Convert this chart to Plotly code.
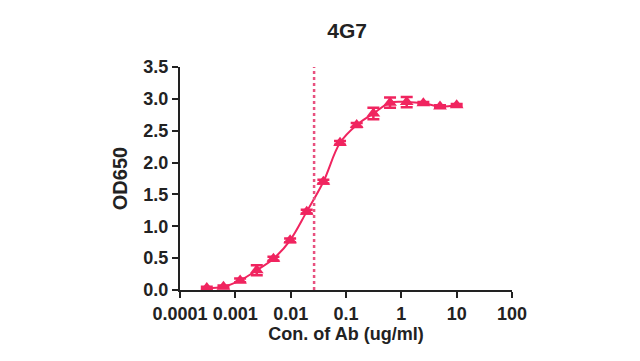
import plotly.graph_objects as go

conc = [0.000305, 0.00061, 0.00122, 0.00244, 0.00488, 0.00977, 0.0195, 0.039,
        0.078, 0.156, 0.3125, 0.625, 1.25, 2.5, 5, 10]
od = [0.03, 0.05, 0.15, 0.31, 0.49, 0.78, 1.23, 1.70,
      2.31, 2.59, 2.77, 2.94, 2.95, 2.93, 2.88, 2.90]
err = [0.02, 0.02, 0.03, 0.08, 0.03, 0.03, 0.03, 0.03,
       0.03, 0.03, 0.09, 0.08, 0.08, 0.02, 0.02, 0.02]
ec50 = 0.0265
x_ticks = [0.0001, 0.001, 0.01, 0.1, 1, 10, 100]
x_tick_labels = ["0.0001", "0.001", "0.01", "0.1", "1", "10", "100"]
y_ticks = [0.0, 0.5, 1.0, 1.5, 2.0, 2.5, 3.0, 3.5]

red = "#F0245F"
font = "Liberation Sans"

fig = go.Figure()
fig.add_trace(go.Scatter(
    x=conc, y=od, mode="lines",
    line=dict(color=red, width=2, shape="spline", smoothing=1.0),
    hoverinfo="skip", showlegend=False, cliponaxis=False))
fig.add_trace(go.Scatter(
    x=conc, y=od, mode="markers",
    marker=dict(symbol="triangle-up", size=12, color=red),
    error_y=dict(type="data", array=err, color=red, thickness=2.5, width=6),
    showlegend=False, cliponaxis=False))
fig.add_trace(go.Scatter(
    x=[ec50, ec50], y=[0, 3.5], mode="lines",
    line=dict(color="#E8507F", width=2.5, dash="dot"),
    showlegend=False, hoverinfo="skip"))

fig.update_layout(
    width=640, height=361,
    paper_bgcolor="white", plot_bgcolor="white",
    margin=dict(l=172, r=136, t=59, b=79),
    font=dict(family=font, color="#222222", size=18),
    title=dict(text="<b>4G7</b>", x=0.53, xanchor="center", y=0.936, yanchor="middle",
               font=dict(size=21, family=font, color="#222222")),
    xaxis=dict(type="log", range=[-4, 2], tickvals=x_ticks, ticktext=[f"<b>{t}</b>" for t in x_tick_labels],
               showgrid=False, zeroline=False, showline=True, linecolor="#222222", linewidth=2,
               ticks="outside", ticklen=6, tickwidth=2, tickcolor="#222222",
               tickfont=dict(size=18), automargin=False,
               title=dict(text="<b>Con. of Ab (ug/ml)</b>", font=dict(size=18), standoff=2)),
    yaxis=dict(range=[0, 3.5], tickvals=y_ticks, ticktext=[f"<b>{v:.1f}</b>" for v in y_ticks],
               showgrid=False, zeroline=False, showline=True, linecolor="#222222", linewidth=2,
               ticks="outside", ticklen=6, tickwidth=2, tickcolor="#222222",
               tickfont=dict(size=18), automargin=False,
               title=dict(text="<b>OD650</b>", font=dict(size=20), standoff=10)),
)

fig.write_html("out.html")
